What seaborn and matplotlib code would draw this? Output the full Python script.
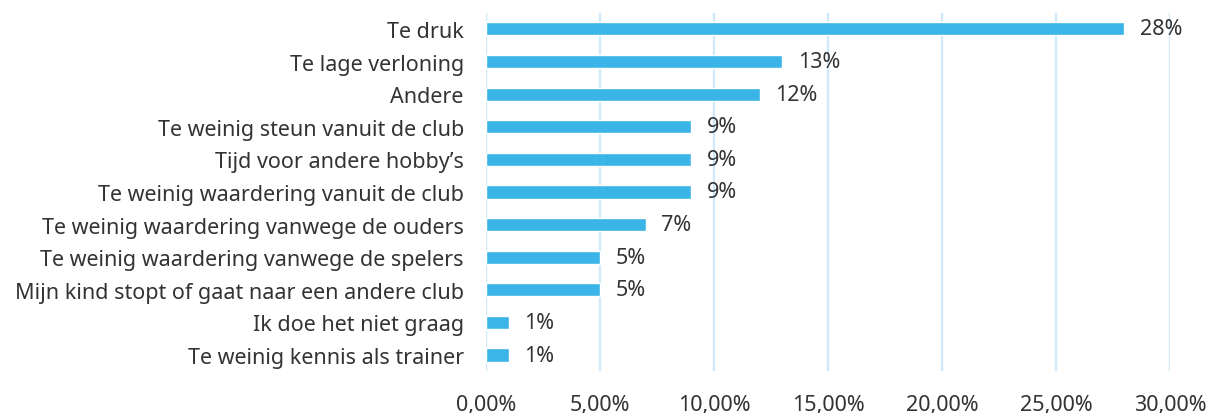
import matplotlib
matplotlib.use("Agg")
import matplotlib.pyplot as plt
import seaborn as sns
import pandas as pd
from matplotlib.ticker import FuncFormatter, MultipleLocator

categories = [
    "Te druk",
    "Te lage verloning",
    "Andere",
    "Te weinig steun vanuit de club",
    "Tijd voor andere hobby’s",
    "Te weinig waardering vanuit de club",
    "Te weinig waardering vanwege de ouders",
    "Te weinig waardering vanwege de spelers",
    "Mijn kind stopt of gaat naar een andere club",
    "Ik doe het niet graag",
    "Te weinig kennis als trainer",
]
values = [28, 13, 12, 9, 9, 9, 7, 5, 5, 1, 1]

df = pd.DataFrame({"cat": categories, "val": values})

sns.set_theme(style="white")
plt.rcParams["font.family"] = ["Noto Sans", "DejaVu Sans"]

fig = plt.figure(figsize=(12.08, 4.14), dpi=100)
ax = fig.add_axes([0.4023, 0.1007, 0.5662, 0.8663])

bar_color = "#3BB5E8"
text_color = "#333333"
fs = 15.5
sns.barplot(data=df, x="val", y="cat", color=bar_color, width=0.40,
            saturation=1, ax=ax, zorder=3)

ax.set_xlim(0, 30)
ax.xaxis.set_major_locator(MultipleLocator(5))
ax.xaxis.set_major_formatter(FuncFormatter(lambda v, p: f"{v:.2f}".replace(".", ",") + "%"))
ax.grid(axis="x", color="#CDE9FB", linewidth=1.6, zorder=0)
ax.grid(axis="y", visible=False)
for s in ax.spines.values():
    s.set_visible(False)
ax.set_xlabel("")
ax.set_ylabel("")
ax.tick_params(axis="both", length=0, labelsize=fs, colors=text_color)
ax.tick_params(axis="y", pad=16)
ax.tick_params(axis="x", pad=16)

for i, v in enumerate(values):
    ax.annotate(f"{v}%", xy=(v, i), xytext=(11, 0), textcoords="offset points",
                va="center", ha="left", fontsize=fs, color=text_color)

fig.savefig("out.png", dpi=100)
